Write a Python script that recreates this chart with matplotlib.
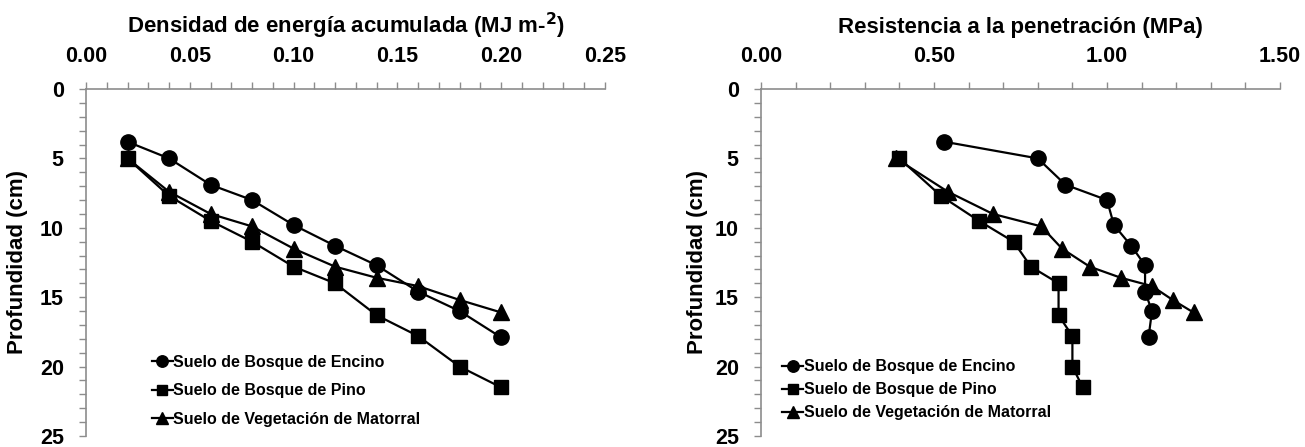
import matplotlib
matplotlib.use("Agg")
import matplotlib.pyplot as plt
from matplotlib.ticker import MultipleLocator

plt.rcParams['font.family'] = ['Liberation Sans', 'DejaVu Sans']
plt.rcParams['font.weight'] = 'bold'

# ---- data ----
energy = [0.02, 0.04, 0.06, 0.08, 0.10, 0.12, 0.14, 0.16, 0.18, 0.20]
depth_encino = [3.8, 5.0, 6.9, 8.0, 9.8, 11.3, 12.7, 14.6, 16.0, 17.9]
depth_pino = [5.0, 7.7, 9.5, 11.0, 12.8, 14.0, 16.3, 17.8, 20.0, 21.5]
depth_matorral = [5.0, 7.4, 9.0, 9.9, 11.5, 12.8, 13.6, 14.2, 15.2, 16.1]

res_encino = [0.53, 0.80, 0.88, 1.00, 1.02, 1.07, 1.11, 1.11, 1.13, 1.12]
res_pino = [0.40, 0.52, 0.63, 0.73, 0.78, 0.86, 0.86, 0.90, 0.90, 0.93]
res_matorral = [0.39, 0.54, 0.67, 0.81, 0.87, 0.95, 1.04, 1.13, 1.19, 1.25]

series_names = ["Suelo de Bosque de Encino", "Suelo de Bosque de Pino",
                "Suelo de Vegetación de Matorral"]
left_xticks = [0.00, 0.05, 0.10, 0.15, 0.20, 0.25]
right_xticks = [0.00, 0.50, 1.00, 1.50]
yticks = [0, 5, 10, 15, 20, 25]

left_title = "Densidad de energía acumulada (MJ m-$\\mathbf{^{2}}$)"
right_title = "Resistencia a la penetración (MPa)"
ylabel = "Profundidad (cm)"

# ---- styling ----
GRAY = '#8c8c8c'
W, H = 1305, 447
fig = plt.figure(figsize=(W / 100, H / 100), dpi=100)

def px_axes(x0, x1, y0, y1):
    return fig.add_axes([x0 / W, 1 - y1 / H, (x1 - x0) / W, (y1 - y0) / H])

ax1 = px_axes(86, 605, 89, 436)
ax2 = px_axes(761, 1280, 89, 436)

markers = ['o', 's', '^']
msizes = [11, 10.5, 11.5]

def style(ax, xticks, xminor, title, xfmt, ylabelpad):
    ax.set_ylim(25, 0)
    ax.set_xlim(xticks[0], xticks[-1])
    ax.xaxis.tick_top()
    ax.xaxis.set_label_position('top')
    ax.set_xticks(xticks)
    ax.set_xticklabels([xfmt.format(v) for v in xticks])
    ax.xaxis.set_minor_locator(MultipleLocator(xminor))
    ax.set_yticks(yticks)
    ax.yaxis.set_minor_locator(MultipleLocator(1))
    for s in ['right', 'bottom']:
        ax.spines[s].set_visible(False)
    for s in ['left', 'top']:
        ax.spines[s].set_color(GRAY)
        ax.spines[s].set_linewidth(1.2)
    ax.tick_params(which='both', direction='out', length=5, width=1.0,
                   color=GRAY, labelsize=15.5, pad=11)
    ax.tick_params(axis='x', which='both', top=True, bottom=False)
    for lab in ax.get_xticklabels() + ax.get_yticklabels():
        lab.set_fontweight('bold')
    ax.set_xlabel(title, fontsize=16, fontweight='bold', labelpad=9)
    ax.set_ylabel(ylabel, fontsize=16, fontweight='bold', labelpad=ylabelpad)
    ax.patch.set_visible(False)

style(ax1, left_xticks, 0.01, left_title, "{:.2f}", 8.5)
style(ax2, right_xticks, 0.1, right_title, "{:.2f}", 5)

for ax, xs_list in [(ax1, [energy, energy, energy]),
                    (ax2, [res_encino, res_pino, res_matorral])]:
    for xs, ys, m, ms, name in zip(xs_list,
                                   [depth_encino, depth_pino, depth_matorral],
                                   markers, msizes, series_names):
        ax.plot(xs, ys, color='black', lw=1.6, marker=m, markersize=ms,
                label=name, clip_on=False)

leg_kw = dict(loc='center left', frameon=False, markerscale=0.75,
              handlelength=1.3, handletextpad=0.05, borderpad=0,
              borderaxespad=0, prop={'weight': 'bold', 'size': 11.5})
ax1.legend(bbox_to_anchor=(0.127, 0.13), labelspacing=0.85, **leg_kw)
ax2.legend(bbox_to_anchor=(0.041, 0.133), labelspacing=0.5, **leg_kw)

fig.savefig('out.png', dpi=100)
